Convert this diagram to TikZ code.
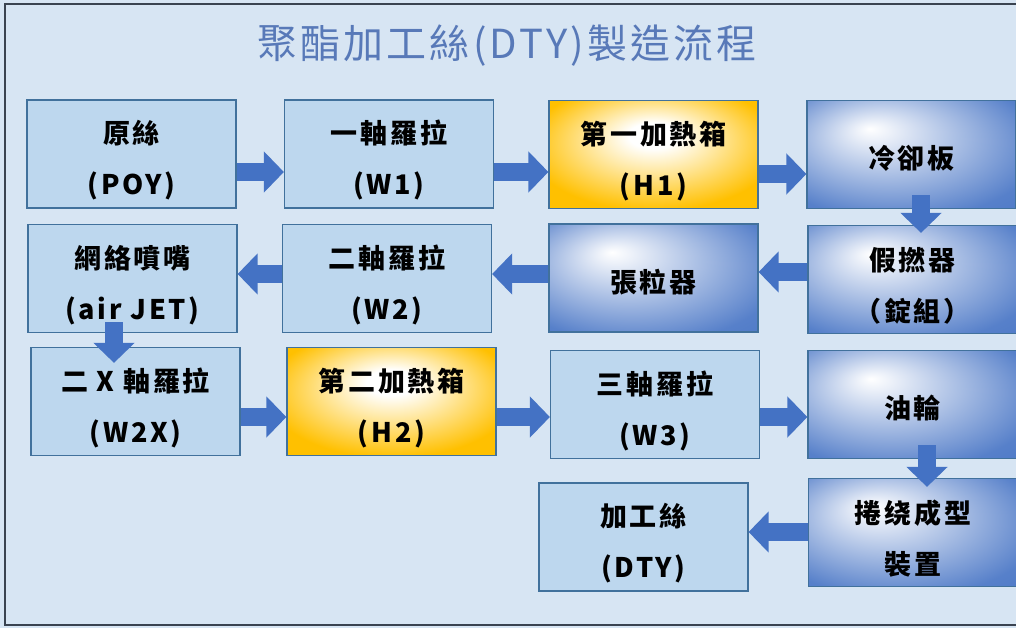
\documentclass[tikz,border=0pt]{standalone}
\usepackage{fontspec}
\setmainfont{Noto Sans CJK TC}
\newfontfamily\boxfont[LetterSpace=10]{Noto Sans CJK TC}
\newfontfamily\titlefont[LetterSpace=8]{Noto Sans CJK TC}
\usetikzlibrary{arrows.meta}

\definecolor{paper}{HTML}{D7E5F3}
\definecolor{framegray}{HTML}{3A4350}
\definecolor{lightbox}{HTML}{BDD7EE}
\definecolor{boxline}{HTML}{41719C}
\definecolor{flowblue}{HTML}{4472C4}
\definecolor{heat}{HTML}{FFC000}
\definecolor{titleblue}{HTML}{5879B8}

\pgfdeclareradialshading{coolshade}{\pgfpoint{-10bp}{12bp}}{%
	color(0bp)=(white); color(4bp)=(white!90!flowblue);
	color(34bp)=(flowblue!90!white); color(50bp)=(flowblue)}
\pgfdeclareradialshading{heatshade}{\pgfpoint{0bp}{10bp}}{%
	color(0bp)=(white); color(6bp)=(white);
	color(30bp)=(heat); color(50bp)=(heat)}

\tikzset{
	stage lift/.initial=87pt,
	stage/.style={draw=boxline, line width=1.2pt, minimum width=209pt,
		minimum height=108pt, inner sep=0pt, align=center,
		font=\boxfont\bfseries\fontsize{27}{51}\selectfont,
		execute at begin node={\rule{0pt}{\pgfkeysvalueof{/tikz/stage lift}}}},
	oneline/.style={stage lift=31pt},
	plainstage/.style={stage, fill=lightbox},
	coolstage/.style={stage, shading=coolshade},
	heatstage/.style={stage, shading=heatshade},
	flow/.style={flowblue, line width=18pt, -{Triangle[length=20pt,width=40pt]}},
}

\begin{document}
\begin{tikzpicture}[x=1pt,y=-1pt]
	\useasboundingbox (0,0) rectangle (1016,628);
	% background and frame
	\fill[paper] (0,0) rectangle (1016,628);
	\draw[framegray, line width=2pt] (5,4) rectangle (1030,625);
	\node[titleblue, font=\titlefont\fontsize{40}{44}\selectfont] (title) at (507,46) {聚酯加工絲(DTY)製造流程};

	% first row
	\node[plainstage] (raw) at (131.5,154) {原絲\\(POY)};
	\node[plainstage] (w1) at (389,154) {一軸羅拉\\(W1)};
	\node[heatstage] (h1) at (653.5,154.5) {第一加熱箱\\(H1)};
	\node[coolstage, oneline] (cool) at (911.5,154.5) {冷卻板};
	% second row
	\node[plainstage] (jet) at (132.5,278.5) {網絡噴嘴\\(air JET)};
	\node[plainstage] (w2) at (387,278.5) {二軸羅拉\\(W2)};
	\node[coolstage, oneline] (tens) at (653.5,278) {張粒器};
	\node[coolstage] (twist) at (912.5,279.5) {假撚器\\（錠組）};
	% third row
	\node[plainstage] (w2x) at (135.5,401.5) {二 X 軸羅拉\\(W2X)};
	\node[heatstage] (h2) at (391.5,401.5) {第二加熱箱\\(H2)};
	\node[plainstage] (w3) at (655,404.5) {三軸羅拉\\(W3)};
	\node[coolstage, oneline] (oil) at (912.5,404.5) {油輪};
	% last row
	\node[plainstage] (dty) at (643.5,537) {加工絲\\(DTY)};
	\node[coolstage] (wind) at (913,532.5) {捲绕成型\\裝置};

	% flow arrows
	\draw[flow] (raw.east |- 0,172) -- (w1.west |- 0,172);
	\draw[flow] (w1.east |- 0,172) -- (h1.west |- 0,172);
	\draw[flow] (h1.east |- 0,174) -- (cool.west |- 0,174);
	\draw[flow] ([yshift=14pt]cool.south -| 921,0) -- ([yshift=-8pt]twist.north -| 921,0);
	\draw[flow] (twist.west |- 0,272) -- (tens.east |- 0,272);
	\draw[flow] (tens.west |- 0,274) -- (w2.east |- 0,274);
	\draw[flow] (w2.west |- 0,274) -- (jet.east |- 0,274);
	\draw[flow] ([yshift=11pt]jet.south -| 114,0) -- ([yshift=-16pt]w2x.north -| 114,0);
	\draw[flow] (w2x.east |- 0,417) -- (h2.west |- 0,417);
	\draw[flow] (h2.east |- 0,417) -- (w3.west |- 0,417);
	\draw[flow] (w3.east |- 0,417) -- (oil.west |- 0,417);
	\draw[flow] ([yshift=14pt]oil.south -| 927,0) -- ([yshift=-9pt]wind.north -| 927,0);
	\draw[flow] (wind.west |- 0,532) -- (dty.east |- 0,532);
\end{tikzpicture}
\end{document}
